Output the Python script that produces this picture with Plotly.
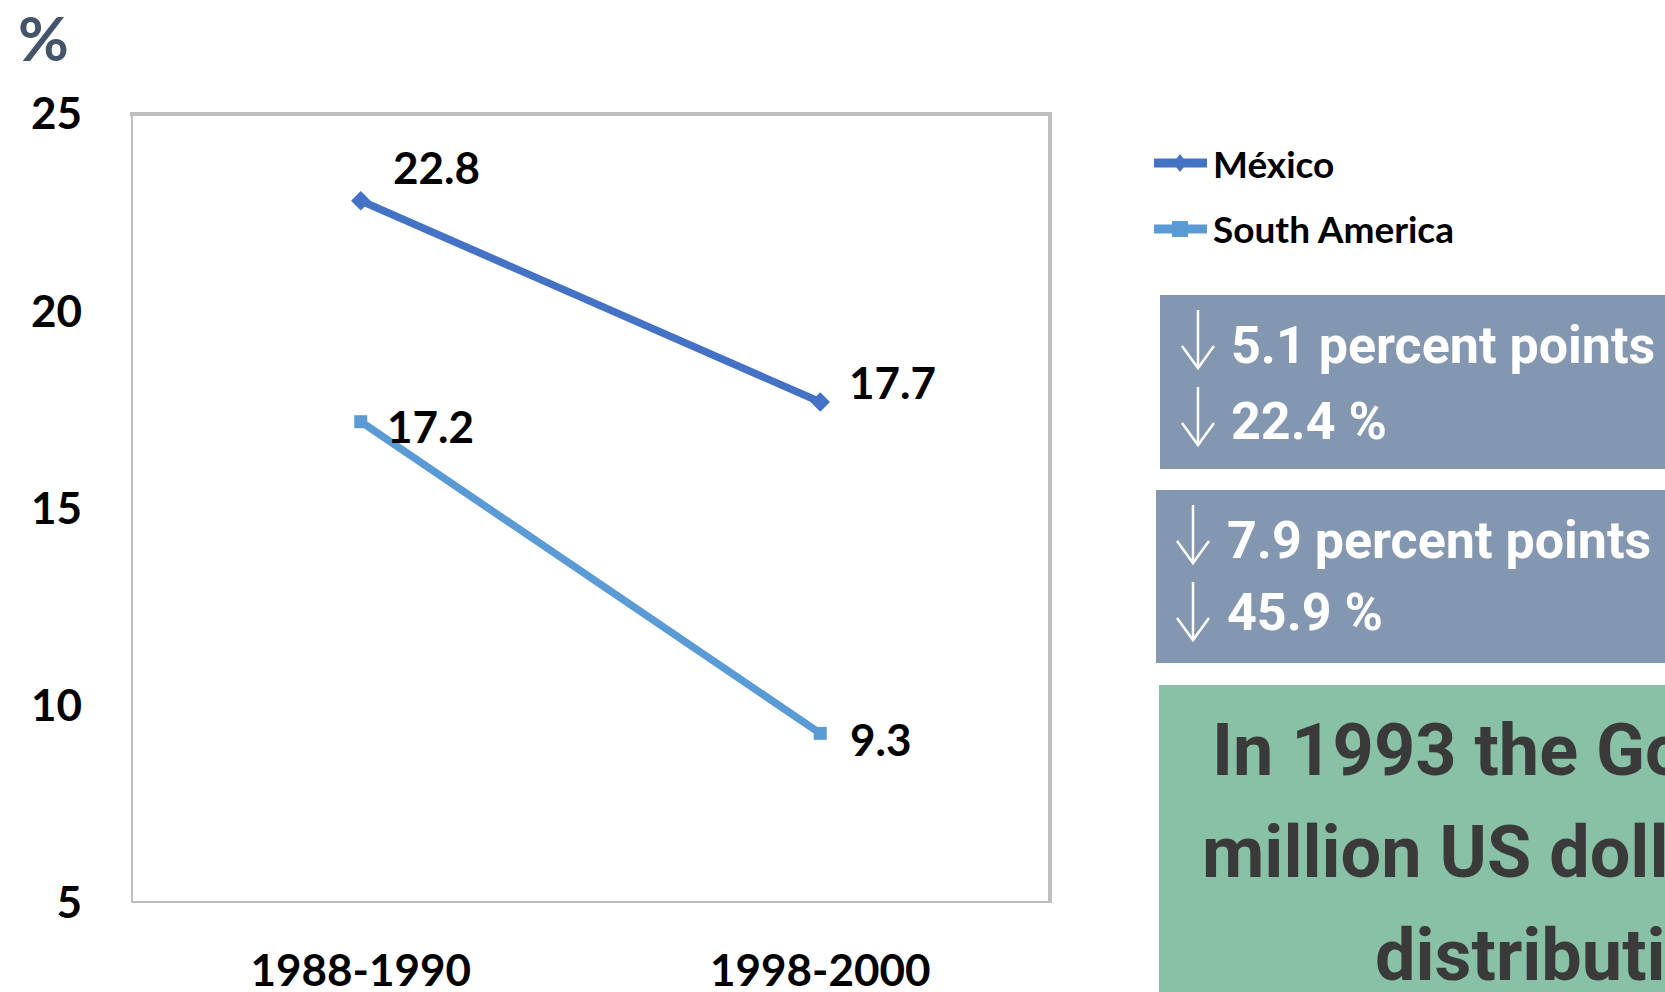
import plotly.graph_objects as go

# ---- data ----
periods = ["1988-1990", "1998-2000"]
mexico = [22.8, 17.7]
south_america = [17.2, 9.3]
y_ticks = [5, 10, 15, 20, 25]

# ---- layout geometry (pixels) ----
FIG_W, FIG_H = 1665, 992
L, T, W, H = 131, 114, 919, 789


def px(x):
    return (x - L) / W


def py(y):
    return (T + H - y) / H


MEX_COLOR = "#4472C4"
SA_COLOR = "#5B9BD5"
LABEL_FONT = dict(family="Lato, Open Sans, sans-serif", size=44, color="black", weight="bold")
BOX_FONT = "Roboto, Liberation Sans, sans-serif"

fig = go.Figure()
fig.add_trace(go.Scatter(
    x=periods, y=mexico, name="México", mode="lines+markers",
    line=dict(color=MEX_COLOR, width=7.5),
    marker=dict(symbol="diamond", size=15, color=MEX_COLOR),
    cliponaxis=False,
))
fig.add_trace(go.Scatter(
    x=periods, y=south_america, name="South America", mode="lines+markers",
    line=dict(color=SA_COLOR, width=7.5),
    marker=dict(symbol="square", size=13, color=SA_COLOR),
    cliponaxis=False,
))

annotations = []
# value labels, placed right of each point
label_offsets = {
    ("México", 0): (30, 34),
    ("México", 1): (27, 20),
    ("South America", 0): (24, -4),
    ("South America", 1): (28, -6),
}
for name, values in (("México", mexico), ("South America", south_america)):
    for i, v in enumerate(values):
        dx, dy = label_offsets[(name, i)]
        annotations.append(dict(
            x=periods[i], y=v, xref="x", yref="y", text=f"{v:.1f}",
            showarrow=False, xanchor="left", yanchor="middle",
            xshift=dx, yshift=dy, font=LABEL_FONT,
        ))

# unit label
annotations.append(dict(
    x=px(43), y=py(37), xref="paper", yref="paper", text="%", showarrow=False,
    xanchor="center", yanchor="middle",
    font=dict(family="Lato, sans-serif", size=62, color="#44546A", weight="bold"),
))

shapes = []
# plot frame
FRAME = "#BFBFBF"
shapes += [
    dict(type="line", xref="paper", yref="paper", x0=px(130), x1=px(1052), y0=py(114), y1=py(114),
         line=dict(color=FRAME, width=4)),
    dict(type="line", xref="paper", yref="paper", x0=px(1050), x1=px(1050), y0=py(112), y1=py(903),
         line=dict(color=FRAME, width=4)),
    dict(type="line", xref="paper", yref="paper", x0=px(132), x1=px(132), y0=py(112), y1=py(903),
         line=dict(color=FRAME, width=2)),
    dict(type="line", xref="paper", yref="paper", x0=px(131), x1=px(1052), y0=py(902), y1=py(902),
         line=dict(color=FRAME, width=2)),
]

# legend
legend_items = [("México", MEX_COLOR, "diamond", 163), ("South America", SA_COLOR, "square", 229)]
for name, color, sym, yc in legend_items:
    shapes.append(dict(type="line", xref="paper", yref="paper",
                       x0=px(1154), x1=px(1207), y0=py(yc), y1=py(yc),
                       line=dict(color=color, width=9)))
    if sym == "diamond":
        path = (f"M {px(1180)} {py(yc - 9)} L {px(1187)} {py(yc)} "
                f"L {px(1180)} {py(yc + 9)} L {px(1173)} {py(yc)} Z")
    else:
        path = (f"M {px(1172)} {py(yc - 8)} L {px(1188)} {py(yc - 8)} "
                f"L {px(1188)} {py(yc + 8)} L {px(1172)} {py(yc + 8)} Z")
    shapes.append(dict(type="path", xref="paper", yref="paper", path=path,
                       fillcolor=color, line=dict(width=0)))
    annotations.append(dict(
        x=px(1211), y=py(yc), xref="paper", yref="paper", text=name, showarrow=False,
        xanchor="left", yanchor="middle",
        font=dict(family="Lato, sans-serif", size=37, color="black", weight="bold"),
    ))

# summary boxes
BOX_BLUE = "#8497B0"
BOX_GREEN = "#88C1A6"
for x0, y0, y1, color in ((1160, 295, 469, BOX_BLUE), (1156, 490, 663, BOX_BLUE), (1159, 685, 1000, BOX_GREEN)):
    shapes.append(dict(type="rect", xref="paper", yref="paper", x0=px(x0), x1=px(1700),
                       y0=py(y1), y1=py(y0), fillcolor=color, line=dict(width=0), layer="below"))

# (arrow x, text x, arrow top, arrow bottom, text centre y, text)
box_lines = [
    (1198, 1229, 310, 368, 345, "5.1 percent points"),
    (1198, 1229, 387, 445, 421, "22.4 %"),
    (1193, 1225, 505, 563, 540, "7.9 percent points"),
    (1193, 1225, 582, 640, 612, "45.9 %"),
]
for ax, tx, a_top, a_bot, yc, txt in box_lines:
    arrow_line = dict(color="white", width=2.5)
    shapes.append(dict(type="line", xref="paper", yref="paper",
                       x0=px(ax), x1=px(ax), y0=py(a_top), y1=py(a_bot - 1), line=arrow_line))
    shapes.append(dict(type="path", xref="paper", yref="paper",
                       path=(f"M {px(ax - 16)} {py(a_bot - 22)} L {px(ax)} {py(a_bot)} "
                             f"L {px(ax + 16)} {py(a_bot - 22)}"),
                       line=arrow_line))
    annotations.append(dict(
        x=px(tx), y=py(yc), xref="paper", yref="paper", text=txt, showarrow=False,
        xanchor="left", yanchor="middle",
        font=dict(family=BOX_FONT, size=52, color="white", weight="bold"),
    ))

note_lines = [
    (1210, 750, "In 1993 the Government"),
    (1200, 852, "million US dollars"),
    (1373, 955, "distribution"),
]
for tx, yc, txt in note_lines:
    annotations.append(dict(
        x=px(tx), y=py(yc), xref="paper", yref="paper", text=txt, showarrow=False,
        xanchor="left", yanchor="middle",
        font=dict(family=BOX_FONT, size=72, color="#3A3A3A", weight="bold"),
    ))

fig.update_layout(
    width=FIG_W, height=FIG_H,
    margin=dict(l=L, r=FIG_W - L - W, t=T, b=FIG_H - T - H, pad=0),
    paper_bgcolor="white", plot_bgcolor="white",
    showlegend=False,
    xaxis=dict(type="category", categoryorder="array", categoryarray=periods,
               range=[-0.5, 1.5], showgrid=False, zeroline=False, showline=False,
               ticks="", tickfont=LABEL_FONT, ticklabelstandoff=38, automargin=False),
    yaxis=dict(range=[5, 25], tickvals=y_ticks, showgrid=False, zeroline=False,
               showline=False, ticks="", tickfont=LABEL_FONT, ticklabelstandoff=48,
               automargin=False),
    shapes=shapes,
    annotations=annotations,
)

fig.write_html("out.html")
